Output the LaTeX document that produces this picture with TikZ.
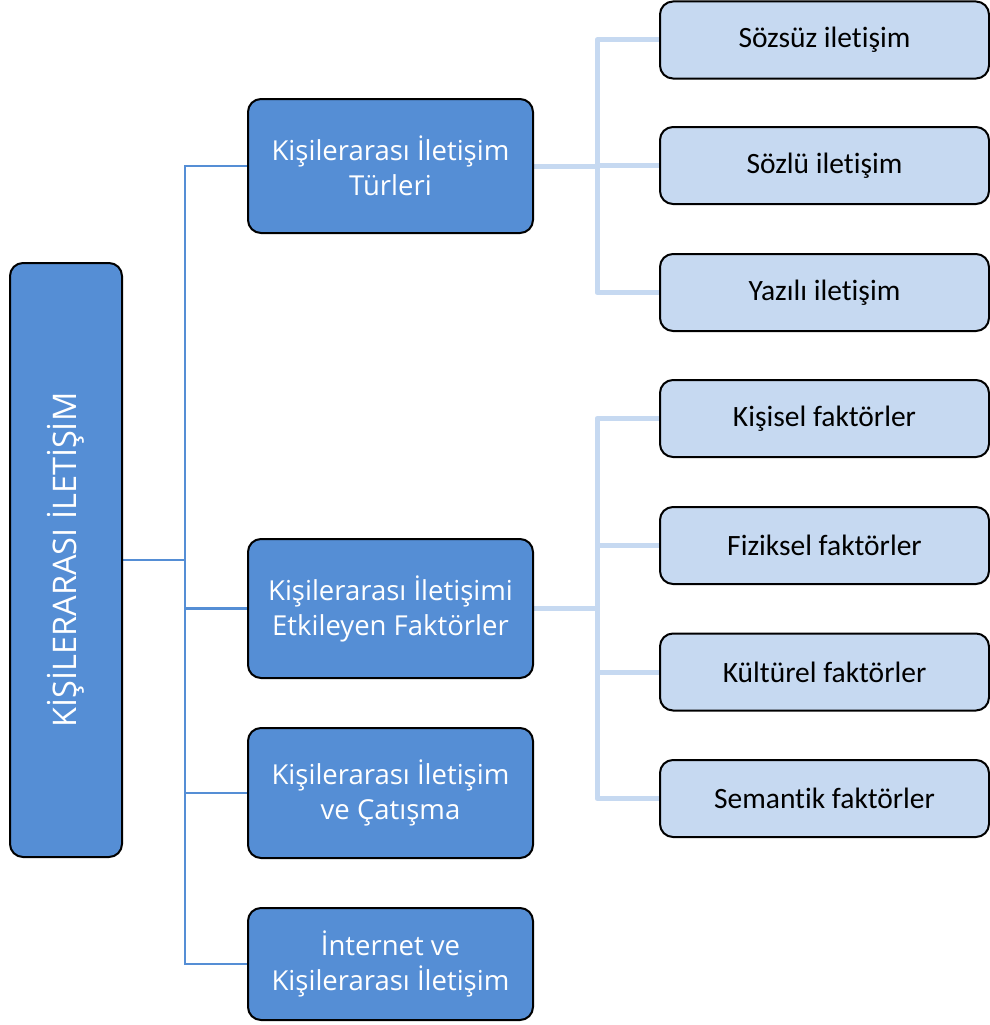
\documentclass[tikz,border=0pt]{standalone}
\usepackage{fontspec}
\setmainfont[RawFeature=-liga]{Carlito}
\newfontfamily\darkfont{Open Sans}
\usetikzlibrary{backgrounds}
\definecolor{darkblue}{HTML}{558ED5}
\definecolor{lightblue}{HTML}{C6D9F1}
\tikzset{
  box/.style={draw=black, line width=2pt, rounded corners=13pt, inner sep=0pt},
  darkbox/.style={box, fill=darkblue, text=white, align=center,
    font=\darkfont\fontsize{27.5}{35}\selectfont},
  lightbox/.style={box, fill=lightblue, text=black, minimum width=329pt, minimum height=77pt,
    font=\fontsize{29.5}{33}\selectfont},
  midbox/.style={darkbox, minimum width=285pt},
  darkline/.style={draw=darkblue, line width=2.2pt},
  lightline/.style={draw=lightblue, line width=5pt, line join=round, line cap=round},
}
\begin{document}
\begin{tikzpicture}[x=1pt, y=-1pt]
\useasboundingbox (0,0) rectangle (990,1025);
\node[darkbox, minimum width=112pt, minimum height=594pt] (main) at (66,560) {};
\node[text=white, font=\darkfont\fontsize{32.5}{36}\selectfont, rotate=90] (title) at (main.center) {KİŞİLERARASI İLETİŞİM};
\node[midbox, minimum height=134pt] (m1) at (390.5,166) {Kişilerarası İletişim\\Türleri};
\node[midbox, minimum height=139pt] (m2) at (390.5,608.5) {Kişilerarası İletişimi\\Etkileyen Faktörler};
\node[midbox, minimum height=130pt] (m3) at (390.5,793) {Kişilerarası İletişim\\ve Çatışma};
\node[midbox, minimum height=112pt] (m4) at (390.5,964) {İnternet ve\\Kişilerarası İletişim};
\node[lightbox] (r1) at (824.5,40) {Sözsüz iletişim};
\node[lightbox] (r2) at (824.5,165.5) {Sözlü iletişim};
\node[lightbox] (r3) at (824.5,292.5) {Yazılı iletişim};
\node[lightbox] (r4) at (824.5,418.5) {Kişisel faktörler};
\node[lightbox] (r5) at (824.5,545.5) {Fiziksel faktörler};
\node[lightbox] (r6) at (824.5,672) {Kültürel faktörler};
\node[lightbox] (r7) at (824.5,798.5) {Semantik faktörler};
\coordinate (t) at (185,560);
\coordinate (u1) at (597,166);
\coordinate (u2) at (597,608.5);
\begin{scope}[on background layer]
\draw[darkline] (main.east) -- (t);
\foreach \m in {m1,m2,m3,m4} \draw[darkline] (\m.west) -| (t);
\draw[lightline] (m1.east) -- (u1);
\foreach \r in {r1,r2,r3} \draw[lightline] (\r.west) -| (u1);
\draw[lightline] (m2.east) -- (u2);
\foreach \r in {r4,r5,r6,r7} \draw[lightline] (\r.west) -| (u2);
\end{scope}
\end{tikzpicture}
\end{document}
